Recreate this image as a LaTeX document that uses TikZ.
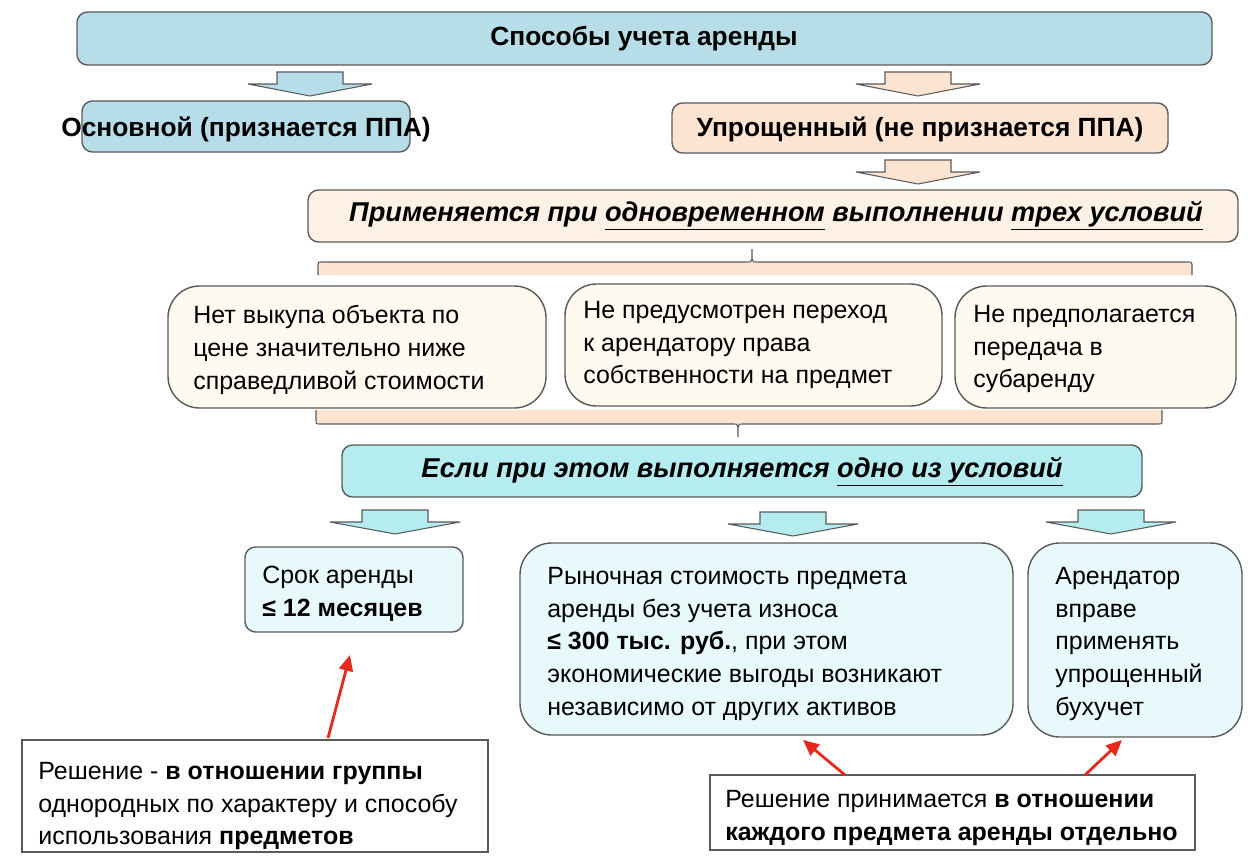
\documentclass[tikz,border=0pt]{standalone}
\usepackage{fontspec}
\setmainfont{Liberation Sans}
\usetikzlibrary{arrows.meta}
\definecolor{cblue}{RGB}{183,222,232}
\definecolor{cpeach}{RGB}{252,228,208}
\definecolor{clpeach}{RGB}{253,240,228}
\definecolor{ccream}{RGB}{255,250,240}
\definecolor{cteal}{RGB}{180,236,240}
\definecolor{clteal}{RGB}{232,249,251}
\definecolor{cline}{RGB}{90,90,90}
\definecolor{cred}{RGB}{230,40,30}
\begin{document}
\begin{tikzpicture}[x=0.02cm,y=-0.02cm,
 bx/.style={draw=cline,line width=0.8pt,rounded corners=6pt},
 big/.style={draw=cline,line width=0.8pt,rounded corners=18pt},
 tx/.style={font=\fontsize{14.2}{18.6}\selectfont,align=left,anchor=north west,inner sep=0pt},
 ttl/.style={font=\fontsize{15}{20}\selectfont\bfseries,inner sep=0pt},
 rarr/.style={draw=cred,line width=1.6pt,-{Triangle[length=9pt,width=8pt]}}]
\useasboundingbox (0,0) rectangle (1260,855);
\newcommand{\flarr}[4]{% cx, ytop, halfwidth, fill
 \filldraw[draw=cline,line width=0.6pt,fill=#4] (#1-33,#2) -- (#1+33,#2) -- (#1+33,#2+12) -- (#1+#3,#2+12) -- (#1,#2+24) -- (#1-#3,#2+12) -- (#1-33,#2+12) -- cycle;}
\draw[bx,fill=cblue] (77,12) rectangle (1212,65);
\node[ttl] (t) at (644,39) {Способы учета аренды};
\flarr{310}{72}{62}{cblue}
\flarr{918}{72}{62}{cpeach}
\draw[bx,fill=cblue] (82,101) rectangle (410,152);
\node[ttl] (a) at (246,129) {Основной (признается ППА)};
\draw[bx,fill=cpeach] (672,103) rectangle (1168,153);
\node[ttl] (b) at (920,129) {Упрощенный (не признается ППА)};
\flarr{918}{160}{62}{cpeach}
\draw[bx,fill=clpeach] (308,190) rectangle (1238,242);
\node[ttl,font=\fontsize{15.5}{20}\selectfont\bfseries\itshape] (c) at (776,216) {Применяется при \underline{одновременном} выполнении \underline{трех условий}};
\filldraw[draw=cline,line width=0.6pt,fill=cpeach] (318,275) -- (318,265) .. controls (318,262) .. (322,262) -- (748,262) .. controls (752,262) .. (752,249) .. controls (752,262) .. (756,262) -- (1188,262) .. controls (1192,262) .. (1192,265) -- (1192,275);
\draw[big,fill=ccream] (168,286) rectangle (546,408);
\draw[big,fill=ccream] (565,284) rectangle (942,406);
\draw[big,fill=ccream] (955,286) rectangle (1236,408);
\node[tx] (p1) at (193,305) {Нет выкупа объекта по\\цене значительно ниже\\справедливой стоимости};
\node[tx] (p2) at (583,301) {Не предусмотрен переход\\к арендатору права\\собственности на предмет};
\node[tx] (p3) at (973,305) {Не предполагается\\передача в\\субаренду};
\filldraw[draw=cline,line width=0.6pt,fill=cpeach] (316,410) -- (316,420) .. controls (316,424) .. (320,424) -- (734,424) .. controls (738,424) .. (738,437) .. controls (738,424) .. (742,424) -- (1158,424) .. controls (1162,424) .. (1162,420) -- (1162,410);
\draw[bx,fill=cteal] (342,445) rectangle (1142,497);
\node[ttl,font=\fontsize{15.5}{20}\selectfont\bfseries\itshape] (d) at (742,472) {Если при этом выполняется \underline{одно из условий}};
\flarr{395}{510}{65}{cteal}
\flarr{793}{512}{65}{cteal}
\flarr{1111}{510}{65}{cteal}
\draw[bx,fill=clteal] (245,547) rectangle (463,632);
\node[tx] (e1) at (262,566) {Срок аренды\\\textbf{≤ 12 месяцев}};
\draw[big,fill=clteal] (520,543) rectangle (1013,735);
\node[tx] (e2) at (547,567) {Рыночная стоимость предмета\\аренды без учета износа\\\textbf{≤ 300 тыс. руб.}, при этом\\экономические выгоды возникают\\независимо от других активов};
\draw[big,fill=clteal] (1028,543) rectangle (1242,737);
\node[tx] (e3) at (1055,567) {Арендатор\\вправе\\применять\\упрощенный\\бухучет};
\draw[draw=cline,line width=0.6pt,fill=white] (22,740) rectangle (488,852);
\node[tx] (r1) at (38,762) {Решение - \textbf{в отношении группы}\\однородных по характеру и способу\\использования \textbf{предметов}};
\draw[draw=cline,line width=0.6pt,fill=white] (710,775) rectangle (1195,850);
\node[tx] (r2) at (725,790) {Решение принимается \textbf{в отношении}\\\textbf{каждого предмета аренды отдельно}};
\coordinate (s1) at (328,738);
\coordinate (e1t) at (350,655);
\coordinate (s2) at (845,775);
\coordinate (e2t) at (803,740);
\coordinate (s3) at (1085,775);
\coordinate (e3t) at (1122,740);
\draw[rarr] (s1) -- (e1t);
\draw[rarr] (s2) -- (e2t);
\draw[rarr] (s3) -- (e3t);
\end{tikzpicture}
\end{document}
